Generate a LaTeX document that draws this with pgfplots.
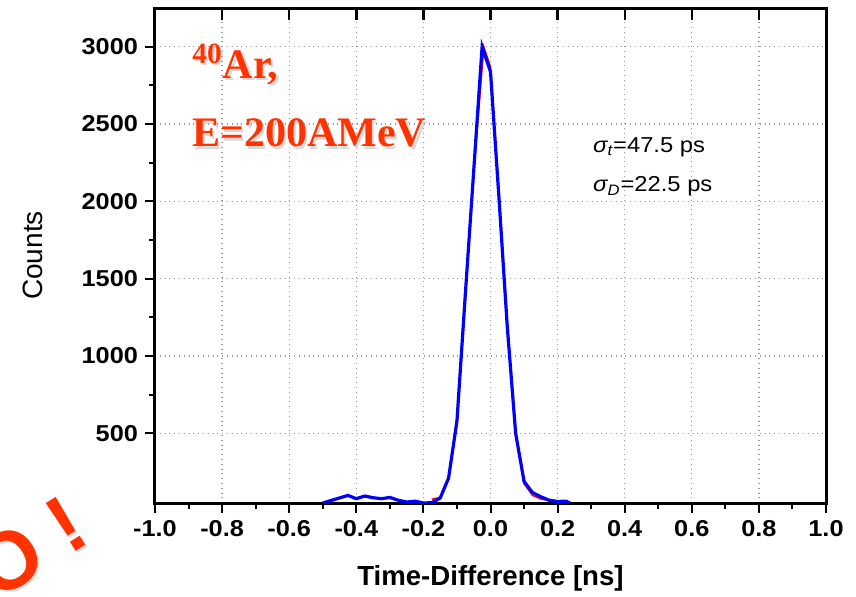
\documentclass[border=0pt]{standalone}
\usepackage{fontspec}
\setmainfont{Liberation Sans}
\newfontfamily\tickfont{Liberation Sans}[FakeStretch=1.1]
\newfontfamily\serifbf{Liberation Serif}
\usepackage{pgfplots}
\pgfplotsset{compat=1.18}
\definecolor{slidered}{RGB}{255,51,0}

\begin{document}
\begin{tikzpicture}
\begin{axis}[
    at={(0,0)}, anchor=south west,
    scale only axis, width=335.5pt, height=247.5pt,
    xmin=-1, xmax=1, ymin=50, ymax=3250,
    xtick={-1,-0.8,-0.6,-0.4,-0.2,0,0.2,0.4,0.6,0.8,1},
    xticklabels={-1.0,-0.8,-0.6,-0.4,-0.2,0.0,0.2,0.4,0.6,0.8,1.0},
    ytick={500,1000,1500,2000,2500,3000},
    minor x tick num=1, minor y tick num=1,
    xtick pos=bottom, ytick pos=left,
    tick align=outside,
    major tick length=5pt, minor tick length=3pt,
    tick style={black, line width=1pt},
    axis line style={line width=1.5pt},
    grid=major,
    major grid style={dotted, gray!80, line width=0.6pt},
    /pgf/number format/assume math mode=true,
    /pgf/number format/1000 sep={},
    ticklabel style={font=\tickfont\bfseries\fontsize{11.5}{13}\selectfont},
    xlabel={Time-Difference [ns]},
    xlabel style={font=\bfseries\fontsize{13.8}{16}\selectfont,
                  at={(axis description cs:0.5,-0.152)}, anchor=center},
    ylabel={Counts},
    ylabel style={font=\fontsize{14}{16}\selectfont,
                  at={(axis description cs:-0.182,0.5)}, anchor=center},
]
% red curve (fit)
\addplot[red, line width=0.8pt, mark=none] coordinates {
    (-0.175,74) (-0.15,85) (-0.125,205) (-0.1,570) (-0.075,1390)
    (-0.05,2190) (-0.02,3000) (0,2870) (0.025,2050) (0.05,1200)
    (0.075,510) (0.1,175) (0.125,100) (0.15,76) (0.175,66)
    (0.2,64) (0.225,60)};
% blue curve (data)
\addplot[blue, line width=1.6pt, mark=none] coordinates {
    (-0.5,50) (-0.425,99) (-0.4,78) (-0.375,95) (-0.35,84)
    (-0.325,78) (-0.3,86) (-0.275,68) (-0.25,56) (-0.225,62)
    (-0.2,50) (-0.175,52) (-0.15,82) (-0.125,211) (-0.1,580)
    (-0.075,1400) (-0.05,2200) (-0.025,3000) (0,2838) (0.025,2030)
    (0.05,1190) (0.075,500) (0.1,190) (0.125,118) (0.15,90)
    (0.175,68) (0.2,60) (0.225,62) (0.237,50)};

% annotations
\node[anchor=base west, font=\tickfont\fontsize{10.8}{12}\selectfont, inner sep=0pt]
    at (axis cs:0.305,2315) {{\itshape σ}\textsubscript{\itshape t}=47.5 ps};
\node[anchor=base west, font=\tickfont\fontsize{10.8}{12}\selectfont, inner sep=0pt]
    at (axis cs:0.305,2061) {{\itshape σ}\textsubscript{\itshape D}=22.5 ps};

% slide text with soft shadow
\node[anchor=base west, inner sep=0pt, text=black!25, opacity=0.6,
      font=\serifbf\bfseries\fontsize{21}{24}\selectfont]
    at ([shift={(1.2pt,-1.2pt)}]axis cs:-0.89,2795) {\textsuperscript{40}Ar,};
\node[anchor=base west, inner sep=0pt, text=slidered,
      font=\serifbf\bfseries\fontsize{21}{24}\selectfont]
    at (axis cs:-0.89,2795) {\textsuperscript{40}Ar,};
\node[anchor=base west, inner sep=0pt, text=black!25, opacity=0.6,
      font=\serifbf\bfseries\fontsize{21}{24}\selectfont]
    at ([shift={(1.2pt,-1.2pt)}]axis cs:-0.89,2354) {E=200AMeV};
\node[anchor=base west, inner sep=0pt, text=slidered,
      font=\serifbf\bfseries\fontsize{21}{24}\selectfont]
    at (axis cs:-0.89,2354) {E=200AMeV};
\end{axis}

% top ticks pointing inward
\begin{axis}[
    at={(0,0)}, anchor=south west,
    scale only axis, width=335.5pt, height=247.5pt,
    xmin=-1, xmax=1, ymin=50, ymax=3250,
    axis x line*=top, axis y line=none,
    xtick={-1,-0.8,-0.6,-0.4,-0.2,0,0.2,0.4,0.6,0.8,1},
    xticklabels={}, minor x tick num=0,
    tick align=inside, major tick length=6pt,
    tick style={black, line width=1.2pt},
    axis line style={draw=none},
]
\end{axis}

% cut-off slide text at lower left
\node[rotate=32, anchor=base east, inner sep=0pt, text=black!25, opacity=0.5,
      font=\bfseries\fontsize{41}{44}\selectfont] at (-29.8pt,-20pt) {O !};
\node[rotate=32, anchor=base east, inner sep=0pt, text=slidered,
      font=\bfseries\fontsize{41}{44}\selectfont] at (-31pt,-19pt) {O !};

\pgfresetboundingbox
\path[use as bounding box] (-77.5pt,-46.5pt) rectangle (350.5pt,251.5pt);
\end{tikzpicture}
\end{document}
